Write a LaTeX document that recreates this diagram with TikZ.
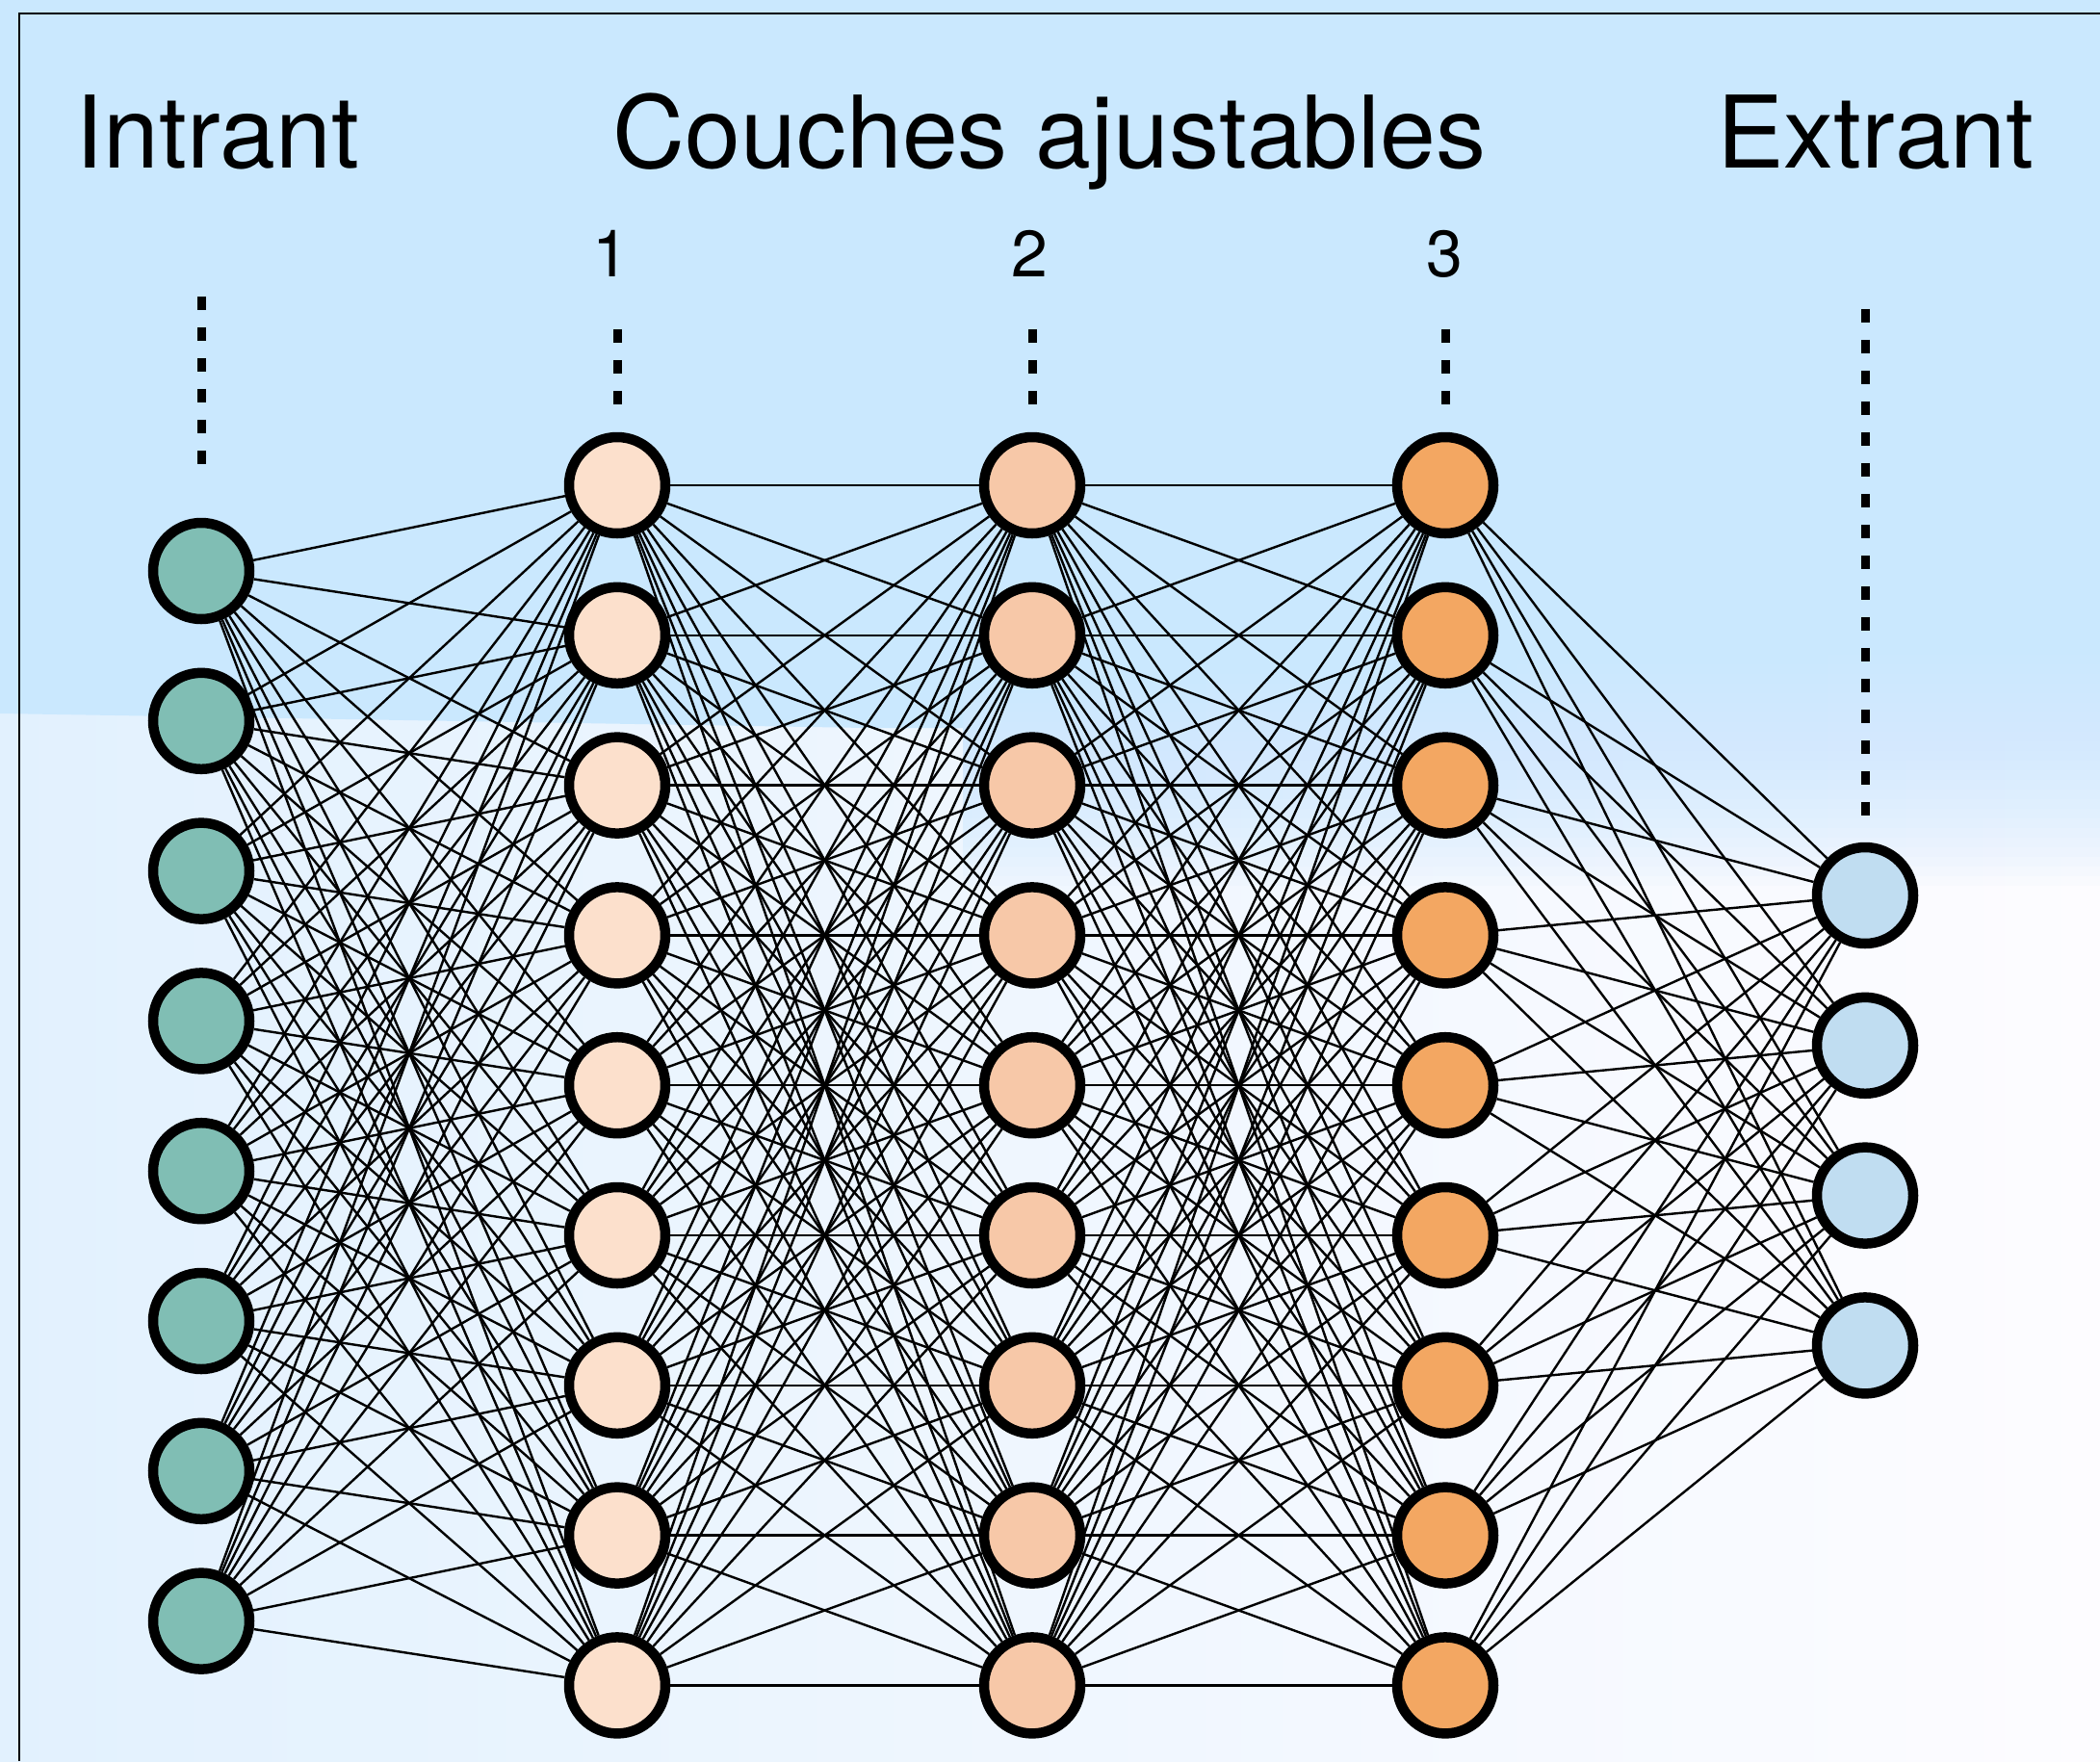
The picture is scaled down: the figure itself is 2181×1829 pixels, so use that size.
\documentclass[tikz,border=0pt]{standalone}
\usepackage{fontspec}
\setmainfont{TeX Gyre Heros}
\definecolor{bgblue}{HTML}{CAE8FE}
\definecolor{bgleft}{HTML}{E2F1FE}
\definecolor{bgright}{HTML}{FDFCFF}
\definecolor{cin}{HTML}{80BEB4}
\definecolor{chA}{HTML}{FCE0CC}
\definecolor{chB}{HTML}{F7C8A8}
\definecolor{chC}{HTML}{F3A762}
\definecolor{cout}{HTML}{C0DDF1}
\pgfdeclarelayer{bg}
\pgfdeclarelayer{edges}
\pgfsetlayers{bg,edges,main}
\begin{document}
\begin{tikzpicture}[x=1pt,y=-1pt,
  neuron/.style={circle, draw=black, line width=10.5pt, minimum size=100pt, inner sep=0pt},
  link/.style={line width=2.4pt},
  dots/.style={line width=9pt, dash pattern=on 14pt off 18pt},
  title/.style={font=\fontsize{104}{110}\selectfont, anchor=base, inner sep=0pt},
  num/.style={font=\fontsize{68}{72}\selectfont, anchor=base, inner sep=0pt}]
\useasboundingbox (0,0) rectangle (2181,1829);

% background
\begin{pgfonlayer}{bg}
\shade[left color=bgleft, right color=bgright] (0,0) rectangle (2181,1829);
\fill[bgblue] (0,0) rectangle (2181,521);
\fill[bgblue] (0,520) -- (0,741) -- (900,756) -- (1000,756) -- (1000,520) -- cycle;
\foreach \k in {1,...,40}
  \fill[bgblue, opacity=0.08] (1000,520) rectangle (2181,{520+10*\k});
\end{pgfonlayer}

% frame
\draw[line width=2.5pt] (20,1829) -- (20,14) -- (2181,14);

% titles
\node[title] (tin) at (226,174) {Intrant};
\node[title] (tmid) at (1090,174) {Couches ajustables};
\node[title] (tout) at (1948,174) {Extrant};
\node[num] (n1) at (634,287) {1};
\node[num] (n2) at (1069,287) {2};
\node[num] (n3) at (1500,287) {3};

% neurons
\foreach \i in {1,...,8}
  \node[neuron, fill=cin] (i\i) at (209,{593+155.8*(\i-1)}) {};
\foreach \j in {1,...,9}{
  \node[neuron, fill=chA] (a\j) at (641,{504+155.8*(\j-1)}) {};
  \node[neuron, fill=chB] (b\j) at (1072,{504+155.8*(\j-1)}) {};
  \node[neuron, fill=chC] (c\j) at (1501,{504+155.8*(\j-1)}) {};
}
\foreach \k in {1,...,4}
  \node[neuron, fill=cout] (o\k) at (1937,{930+155.8*(\k-1)}) {};

% dotted markers
\coordinate (di1) at ([yshift=56pt]i1.north);
\coordinate (di2) at ([yshift=230pt]i1.north);
\coordinate (da1) at ([yshift=29pt]a1.north);
\coordinate (da2) at ([yshift=107pt]a1.north);
\coordinate (db1) at ([yshift=29pt]b1.north);
\coordinate (db2) at ([yshift=107pt]b1.north);
\coordinate (dc1) at ([yshift=29pt]c1.north);
\coordinate (dc2) at ([yshift=107pt]c1.north);
\coordinate (do1) at ([yshift=28pt]o1.north);
\coordinate (do2) at ([yshift=554pt]o1.north);
\draw[dots] (di2) -- (di1);
\draw[dots] (da2) -- (da1);
\draw[dots] (db2) -- (db1);
\draw[dots] (dc2) -- (dc1);
\draw[dots] (do2) -- (do1);

% connections
\begin{pgfonlayer}{edges}
\foreach \i in {1,...,8}
  \foreach \j in {1,...,9}
    \draw[link] (i\i) -- (a\j);
\foreach \i in {1,...,9}
  \foreach \j in {1,...,9}{
    \draw[link] (a\i) -- (b\j);
    \draw[link] (b\i) -- (c\j);
  }
\foreach \i in {1,...,9}
  \foreach \k in {1,...,4}
    \draw[link] (c\i) -- (o\k);
\end{pgfonlayer}
\end{tikzpicture}
\end{document}
